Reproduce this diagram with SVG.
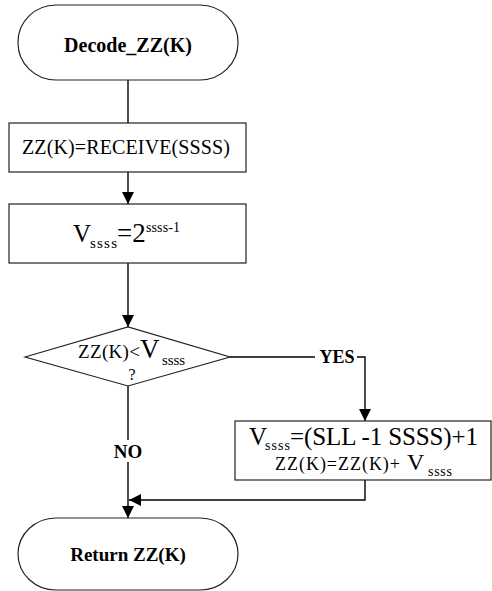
<svg xmlns="http://www.w3.org/2000/svg" width="492" height="591" viewBox="0 0 492 591">
  <style>
    .shape { fill: #ffffff; stroke: #222222; stroke-width: 1.2; }
    .line { fill: none; stroke: #000000; stroke-width: 1.4; }
    .t { font-family: "Liberation Serif", "Times New Roman", serif; fill: #000000; }
    .b { font-weight: bold; }
  </style>
  <defs>
    <marker id="arrow" markerUnits="userSpaceOnUse" markerWidth="14" markerHeight="14" viewBox="0 0 14 14" refX="13" refY="7" orient="auto">
      <path d="M1,1 L13,7 L1,13 Z" fill="#000000"/>
    </marker>
  </defs>

  <rect width="492" height="591" fill="#ffffff"/>

  <!-- connectors -->
  <g id="connectors">
    <line class="line" x1="128" y1="80" x2="128" y2="123"/>
    <line class="line" x1="128" y1="172" x2="128" y2="204" marker-end="url(#arrow)"/>
    <line class="line" x1="128" y1="263" x2="128" y2="327" marker-end="url(#arrow)"/>
    <!-- YES branch -->
    <line class="line" x1="230" y1="357" x2="315" y2="357"/>
    <polyline class="line" points="357,357 365,357 365,421" marker-end="url(#arrow)"/>
    <text class="t b" x="337" y="363" font-size="18" text-anchor="middle">YES</text>
    <!-- NO branch -->
    <line class="line" x1="128" y1="386" x2="128" y2="440"/>
    <line class="line" x1="128" y1="462" x2="128" y2="518" marker-end="url(#arrow)"/>
    <text class="t b" x="128" y="458" font-size="19" text-anchor="middle">NO</text>
    <!-- merge back -->
    <polyline class="line" points="365,480 365,500 129,500" marker-end="url(#arrow)"/>
  </g>

  <!-- start terminator -->
  <g id="start">
    <rect class="shape" x="18" y="5" width="220" height="75" rx="38" ry="37"/>
    <text class="t b" x="128" y="52" font-size="20" text-anchor="middle">Decode_ZZ(K)</text>
  </g>

  <!-- receive step -->
  <g id="receive">
    <rect class="shape" x="9" y="123" width="237" height="49"/>
    <text class="t" x="22" y="154" font-size="20" textLength="208">ZZ(K)=RECEIVE(SSSS)</text>
  </g>

  <!-- threshold step -->
  <g id="threshold">
    <rect class="shape" x="9" y="204" width="237" height="59"/>
    <text class="t" font-size="25"><tspan x="73" y="242">V</tspan><tspan x="90" y="248" font-size="15" textLength="27">ssss</tspan><tspan x="117" y="242" font-size="27">=2</tspan><tspan x="146" y="232" font-size="14" textLength="34">ssss-1</tspan></text>
  </g>

  <!-- comparison -->
  <g id="compare">
    <polygon class="shape" points="25,357 128,327 230,357 128,386"/>
    <text class="t" font-size="19"><tspan x="78" y="358" textLength="62">ZZ(K)&lt;</tspan><tspan x="140" y="358" font-size="27">V</tspan><tspan x="162" y="365" font-size="15" textLength="23">ssss</tspan></text>
    <text class="t" x="132" y="380" font-size="16" text-anchor="middle">?</text>
  </g>

  <!-- adjust step -->
  <g id="adjust">
    <rect class="shape" x="235" y="421" width="256" height="59"/>
    <text class="t" font-size="25"><tspan x="249" y="445">V</tspan><tspan x="265" y="450" font-size="14" textLength="25">ssss</tspan><tspan x="290" y="445" textLength="188">=(SLL -1 SSSS)+1</tspan></text>
    <text class="t" font-size="18"><tspan x="275" y="470" textLength="125">ZZ(K)=ZZ(K)+</tspan><tspan x="407" y="470" font-size="24">V</tspan><tspan x="428" y="476" font-size="14" textLength="24">ssss</tspan></text>
  </g>

  <!-- end terminator -->
  <g id="end">
    <rect class="shape" x="18" y="518" width="220" height="72" rx="38" ry="36"/>
    <text class="t b" x="128" y="561" font-size="19" text-anchor="middle">Return ZZ(K)</text>
  </g>
</svg>
